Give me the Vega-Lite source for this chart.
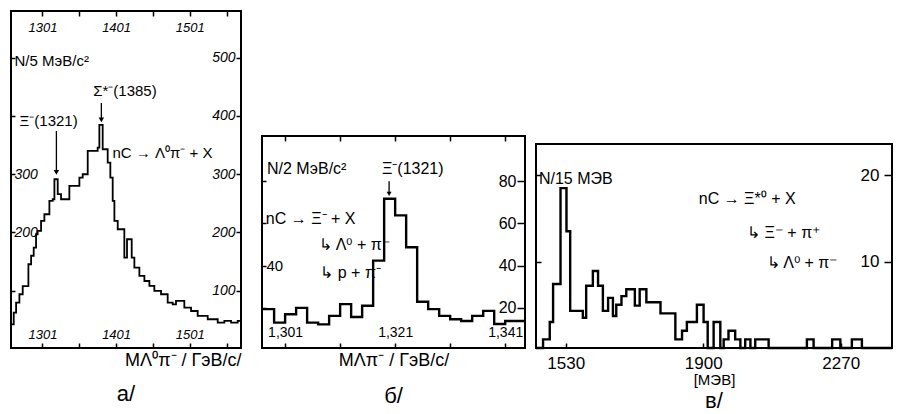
{
  "$schema": "https://vega.github.io/schema/vega-lite/v6.json",
  "background": "white",
  "padding": {"left": 6, "top": 9, "right": 0, "bottom": 0},
  "bounds": "flush",
  "spacing": 21,
  "config": {
    "view": {"stroke": "black", "strokeWidth": 2},
    "font": "Liberation Sans",
    "axis": {"grid": false, "domain": false, "tickColor": "black", "tickWidth": 1.5, "labelColor": "black", "titleColor": "black", "labelFont": "Liberation Sans", "titleFont": "Liberation Sans", "titleFontWeight": "normal", "labelOverlap": false, "labelFlush": false},
    "title": {"color": "black", "fontWeight": "normal", "font": "Liberation Sans", "fontSize": 22},
    "text": {"color": "black"}
  },
  "datasets": {
    "histA": [
      {"m": 1258.4, "n": 42.4}, {"m": 1262.1, "n": 62.3}, {"m": 1265.3, "n": 79.5}, {"m": 1269.8, "n": 93.9}, {"m": 1274.3, "n": 108}, {"m": 1282, "n": 145.4}, {"m": 1285.7, "n": 160}, {"m": 1289.2, "n": 174}, {"m": 1292.4, "n": 196.9}, {"m": 1294.6, "n": 202.6}, {"m": 1299.2, "n": 219.7}, {"m": 1303.7, "n": 231.2}, {"m": 1310.5, "n": 254}, {"m": 1315, "n": 257}, {"m": 1317.3, "n": 291.3}, {"m": 1321.8, "n": 265.6}, {"m": 1326.3, "n": 257}, {"m": 1337.6, "n": 279.8}, {"m": 1351.2, "n": 294}, {"m": 1355.7, "n": 299.9}, {"m": 1362.5, "n": 339.9}, {"m": 1376, "n": 345.6}, {"m": 1378.3, "n": 384.5}, {"m": 1382.8, "n": 342.8}, {"m": 1389.6, "n": 319.8}, {"m": 1393.2, "n": 294}, {"m": 1396.4, "n": 254}, {"m": 1398.7, "n": 219.7}, {"m": 1403.2, "n": 205.5}, {"m": 1412.2, "n": 156.8}, {"m": 1415.8, "n": 188.3}, {"m": 1422.2, "n": 156.8}, {"m": 1425.8, "n": 139.6}, {"m": 1432.6, "n": 125.3}, {"m": 1439.4, "n": 116.7}, {"m": 1446.2, "n": 108.2}, {"m": 1452.9, "n": 99.6}, {"m": 1462, "n": 93.9}, {"m": 1471, "n": 79.5}, {"m": 1477.8, "n": 76.7}, {"m": 1482.3, "n": 82.4}, {"m": 1493.6, "n": 70.9}, {"m": 1502.7, "n": 65.2}, {"m": 1511.7, "n": 56.7}, {"m": 1525.3, "n": 51}, {"m": 1538.9, "n": 45.2}, {"m": 1547.9, "n": 48.1}, {"m": 1557, "n": 45.2}, {"m": 1566, "n": 48.1}, {"m": 1570.5, "n": 48.1}
    ],
    "annA": [
      {"t": "N/5 МэВ/c²", "m": 1263, "n": 494},
      {"t": "Ξ⁻(1321)", "m": 1270, "n": 391},
      {"t": "Σ*⁻(1385)", "m": 1370, "n": 443},
      {"t": "nC → Λ⁰π⁻ + X", "m": 1396, "n": 336}
    ],
    "arrA": [
      {"m": 1320, "n1": 374, "n2": 303},
      {"m": 1381, "n1": 422, "n2": 393}
    ],
    "histB": [
      {"m": 1296.8, "n": 19.4}, {"m": 1299, "n": 13}, {"m": 1301, "n": 17}, {"m": 1303, "n": 20}, {"m": 1305, "n": 13}, {"m": 1307, "n": 12.2}, {"m": 1309, "n": 16.2}, {"m": 1311, "n": 21.8}, {"m": 1313, "n": 15.7}, {"m": 1315, "n": 21}, {"m": 1317, "n": 42.4}, {"m": 1319, "n": 71.7}, {"m": 1321, "n": 63.8}, {"m": 1323, "n": 48.7}, {"m": 1325, "n": 22.9}, {"m": 1327, "n": 19.4}, {"m": 1329, "n": 16.2}, {"m": 1331, "n": 14.6}, {"m": 1333, "n": 13.8}, {"m": 1335, "n": 16.2}, {"m": 1337, "n": 18.6}, {"m": 1339, "n": 12.4}, {"m": 1341, "n": 13.8}, {"m": 1344.6, "n": 13.8}
    ],
    "annB": [
      {"t": "N/2 МэВ/c²", "m": 1297.7, "n": 85.6},
      {"t": "Ξ⁻(1321)", "m": 1318.6, "n": 85.6},
      {"t": "nC → Ξ⁻ + X", "m": 1297.5, "n": 62},
      {"t": "↳ Λ⁰ + π⁻", "m": 1307.2, "n": 50},
      {"t": "↳ p + π⁻", "m": 1307.4, "n": 36.4}
    ],
    "arrB": [
      {"m": 1319.9, "n1": 80, "n2": 74}
    ],
    "histC": [
      {"m": 1450, "n": 0}, {"m": 1469, "n": 1}, {"m": 1487, "n": 3}, {"m": 1496, "n": 7.4}, {"m": 1516, "n": 18.5}, {"m": 1532, "n": 13.5}, {"m": 1542, "n": 4.3}, {"m": 1576, "n": 3.5}, {"m": 1585, "n": 7.2}, {"m": 1603, "n": 8.9}, {"m": 1617, "n": 7.2}, {"m": 1630, "n": 4.3}, {"m": 1644, "n": 5.8}, {"m": 1657, "n": 3.7}, {"m": 1666, "n": 5}, {"m": 1680, "n": 6}, {"m": 1693, "n": 6.8}, {"m": 1716, "n": 4.9}, {"m": 1729, "n": 6.8}, {"m": 1747, "n": 5.3}, {"m": 1785, "n": 4}, {"m": 1825, "n": 1}, {"m": 1843, "n": 2}, {"m": 1856, "n": 3}, {"m": 1883, "n": 5}, {"m": 1901, "n": 3}, {"m": 1912, "n": 0}, {"m": 1928, "n": 3}, {"m": 1946, "n": 0}, {"m": 1955, "n": 1}, {"m": 1968, "n": 2}, {"m": 1986, "n": 1}, {"m": 2000, "n": 0}, {"m": 2013, "n": 1}, {"m": 2027, "n": 0}, {"m": 2040, "n": 1}, {"m": 2076, "n": 0}, {"m": 2179, "n": 1}, {"m": 2197, "n": 0}, {"m": 2247, "n": 1}, {"m": 2269, "n": 0}, {"m": 2300, "n": 1}, {"m": 2327, "n": 0}, {"m": 2408, "n": 0}
    ],
    "annC": [
      {"t": "N/15 МЭВ", "m": 1458, "n": 19.5},
      {"t": "nC → Ξ*⁰ + X", "m": 1888, "n": 17.2},
      {"t": "↳ Ξ⁻ + π⁺", "m": 2018, "n": 13.3},
      {"t": "↳ Λ⁰ + π⁻", "m": 2071, "n": 9.8}
    ]
  },
  "hconcat": [
    {
      "width": 230,
      "height": 337,
      "title": {"text": "а/", "orient": "bottom", "offset": 14, "fontSize": 22},
      "layer": [
        {
          "data": {"name": "histA"},
          "mark": {"type": "line", "interpolate": "step-after", "color": "black", "strokeWidth": 1.8},
          "encoding": {
            "x": {"field": "m", "type": "quantitative", "scale": {"domain": [1258.4, 1570.5], "nice": false, "zero": false},
              "axis": {"orient": "bottom", "values": [1301, 1351, 1401, 1451, 1501, 1551], "tickSize": -5, "labelPadding": -2, "labelBaseline": "bottom", "labelExpr": "indexof([1301,1401,1501], datum.value) >= 0 ? format(datum.value, 'd') : ''", "labelFontSize": 13, "labelFontStyle": "italic", "title": "MΛ⁰π⁻ / ГэВ/с/", "titleAnchor": "end", "titleFontSize": 18, "titlePadding": 3}},
            "y": {"field": "n", "type": "quantitative", "scale": {"domain": [1.7, 580], "nice": false, "zero": false},
              "axis": {"orient": "right", "values": [100, 200, 300, 400, 500], "tickSize": -5, "labelPadding": -1, "labelAlign": "right", "labelFontSize": 14, "labelFontStyle": "italic", "title": null}}
          }
        },
        {
          "data": {"name": "annA"},
          "mark": {"type": "text", "align": "left", "baseline": "middle", "fontSize": 15},
          "encoding": {
            "text": {"field": "t"},
            "x": {"field": "m", "type": "quantitative", "scale": {"domain": [1258.4, 1570.5], "nice": false, "zero": false},
              "axis": {"orient": "top", "values": [1301, 1351, 1401, 1451, 1501, 1551], "tickSize": -5, "labelPadding": -5, "labelBaseline": "top", "labelExpr": "indexof([1301,1401,1501], datum.value) >= 0 ? format(datum.value, 'd') : ''", "labelFontSize": 13, "labelFontStyle": "italic", "title": null}},
            "y": {"field": "n", "type": "quantitative", "scale": {"domain": [1.7, 580], "nice": false, "zero": false},
              "axis": {"orient": "left", "values": [100, 200, 300, 400, 500], "tickSize": -4, "labelPadding": 1, "labelAlign": "left", "labelExpr": "datum.value == 200 || datum.value == 300 ? format(datum.value, 'd') : ''", "labelFontSize": 14, "labelFontStyle": "italic", "title": null}}
          }
        },
        {
          "data": {"name": "arrA"},
          "mark": {"type": "rule", "color": "black", "strokeWidth": 1.3},
          "encoding": {
            "x": {"field": "m", "type": "quantitative", "scale": {"domain": [1258.4, 1570.5], "nice": false, "zero": false}, "axis": null},
            "y": {"field": "n1", "type": "quantitative", "scale": {"domain": [1.7, 580], "nice": false, "zero": false}, "axis": null},
            "y2": {"field": "n2"}
          }
        },
        {
          "data": {"name": "arrA"},
          "mark": {"type": "point", "shape": "triangle-down", "filled": true, "color": "black", "size": 30, "opacity": 1},
          "encoding": {
            "x": {"field": "m", "type": "quantitative", "scale": {"domain": [1258.4, 1570.5], "nice": false, "zero": false}, "axis": null},
            "y": {"field": "n2", "type": "quantitative", "scale": {"domain": [1.7, 580], "nice": false, "zero": false}, "axis": null}
          }
        }
      ],
      "resolve": {"axis": {"x": "independent", "y": "independent"}}
    },
    {
      "spacing": -1,
      "bounds": "full",
      "hconcat": [
        {
          "spacing": 0,
          "bounds": "flush",
          "vconcat": [
            {"width": 263, "height": 125, "data": {"values": [{}]}, "mark": {"type": "text", "text": ""}, "encoding": {}, "view": {"stroke": null}},
            {
              "width": 263,
              "height": 212,
              "title": {"text": "б/", "orient": "bottom", "offset": 16, "fontSize": 22},
              "layer": [
                {
                  "data": {"name": "histB"},
                  "mark": {"type": "line", "interpolate": "step-after", "color": "black", "strokeWidth": 2.4},
                  "encoding": {
                    "x": {"field": "m", "type": "quantitative", "scale": {"domain": [1296.8, 1344.6], "nice": false, "zero": false},
                      "axis": {"orient": "bottom", "values": [1301, 1311, 1321, 1331, 1341], "tickSize": -5, "labelPadding": -4, "labelBaseline": "bottom", "labelExpr": "indexof([1301,1321,1341], datum.value) >= 0 ? format(datum.value, ',d') : ''", "labelFontSize": 14, "title": "MΛπ⁻ / ГэВ/с/", "titleAnchor": "middle", "titleFontSize": 18, "titlePadding": 3}},
                    "y": {"field": "n", "type": "quantitative", "scale": {"domain": [1.0, 101.4], "nice": false, "zero": false},
                      "axis": {"orient": "right", "values": [20, 40, 60, 80], "tickSize": -8, "labelPadding": -1, "labelAlign": "right", "labelFontSize": 16, "title": null}}
                  }
                },
                {
                  "data": {"name": "annB"},
                  "mark": {"type": "text", "align": "left", "baseline": "middle", "fontSize": 16},
                  "encoding": {
                    "text": {"field": "t"},
                    "x": {"field": "m", "type": "quantitative", "scale": {"domain": [1296.8, 1344.6], "nice": false, "zero": false},
                      "axis": {"orient": "top", "values": [1301, 1311, 1321, 1331, 1341], "tickSize": -5, "labels": false, "title": null}},
                    "y": {"field": "n", "type": "quantitative", "scale": {"domain": [1.0, 101.4], "nice": false, "zero": false},
                      "axis": {"orient": "left", "values": [20, 40, 60, 80], "tickSize": -4, "labelPadding": 0, "labelAlign": "left", "labelExpr": "datum.value == 40 ? '40' : ''", "labelFontSize": 15, "title": null}}
                  }
                },
                {
                  "data": {"name": "arrB"},
                  "mark": {"type": "rule", "color": "black", "strokeWidth": 1.3},
                  "encoding": {
                    "x": {"field": "m", "type": "quantitative", "scale": {"domain": [1296.8, 1344.6], "nice": false, "zero": false}, "axis": null},
                    "y": {"field": "n1", "type": "quantitative", "scale": {"domain": [1.0, 101.4], "nice": false, "zero": false}, "axis": null},
                    "y2": {"field": "n2"}
                  }
                },
                {
                  "data": {"name": "arrB"},
                  "mark": {"type": "point", "shape": "triangle-down", "filled": true, "color": "black", "size": 25, "opacity": 1},
                  "encoding": {
                    "x": {"field": "m", "type": "quantitative", "scale": {"domain": [1296.8, 1344.6], "nice": false, "zero": false}, "axis": null},
                    "y": {"field": "n2", "type": "quantitative", "scale": {"domain": [1.0, 101.4], "nice": false, "zero": false}, "axis": null}
                  }
                }
              ],
              "resolve": {"axis": {"x": "independent", "y": "independent"}}
            }
          ]
        },
        {
          "spacing": 0,
          "bounds": "flush",
          "vconcat": [
            {"width": 356, "height": 133, "data": {"values": [{}]}, "mark": {"type": "text", "text": ""}, "encoding": {}, "view": {"stroke": null}},
            {
              "width": 356,
              "height": 204,
              "title": {"text": "в/", "orient": "bottom", "offset": 4, "fontSize": 22},
              "layer": [
                {
                  "data": {"name": "histC"},
                  "mark": {"type": "line", "interpolate": "step-after", "color": "black", "strokeWidth": 2.4},
                  "encoding": {
                    "x": {"field": "m", "type": "quantitative", "scale": {"domain": [1450, 2408], "nice": false, "zero": false},
                      "axis": {"orient": "bottom", "values": [1530, 1900, 2270], "tickSize": -5, "labelPadding": 12, "labelBaseline": "top", "labelExpr": "format(datum.value, 'd')", "labelFontSize": 17, "title": "[МЭВ]", "titleFontSize": 15, "titlePadding": 1}},
                    "y": {"field": "n", "type": "quantitative", "scale": {"domain": [0, 23.6], "nice": false, "zero": false},
                      "axis": {"orient": "right", "values": [10, 20], "tickSize": -8, "labelPadding": -5, "labelAlign": "right", "labelFontSize": 17, "title": null}}
                  }
                },
                {
                  "data": {"name": "annC"},
                  "mark": {"type": "text", "align": "left", "baseline": "middle", "fontSize": 16},
                  "encoding": {
                    "text": {"field": "t"},
                    "x": {"field": "m", "type": "quantitative", "scale": {"domain": [1450, 2408], "nice": false, "zero": false}, "axis": null},
                    "y": {"field": "n", "type": "quantitative", "scale": {"domain": [0, 23.6], "nice": false, "zero": false},
                      "axis": {"orient": "left", "values": [10, 20], "tickSize": -5, "labels": false, "title": null}}
                  }
                }
              ],
              "resolve": {"axis": {"x": "independent", "y": "independent"}}
            }
          ]
        }
      ]
    }
  ]
}
